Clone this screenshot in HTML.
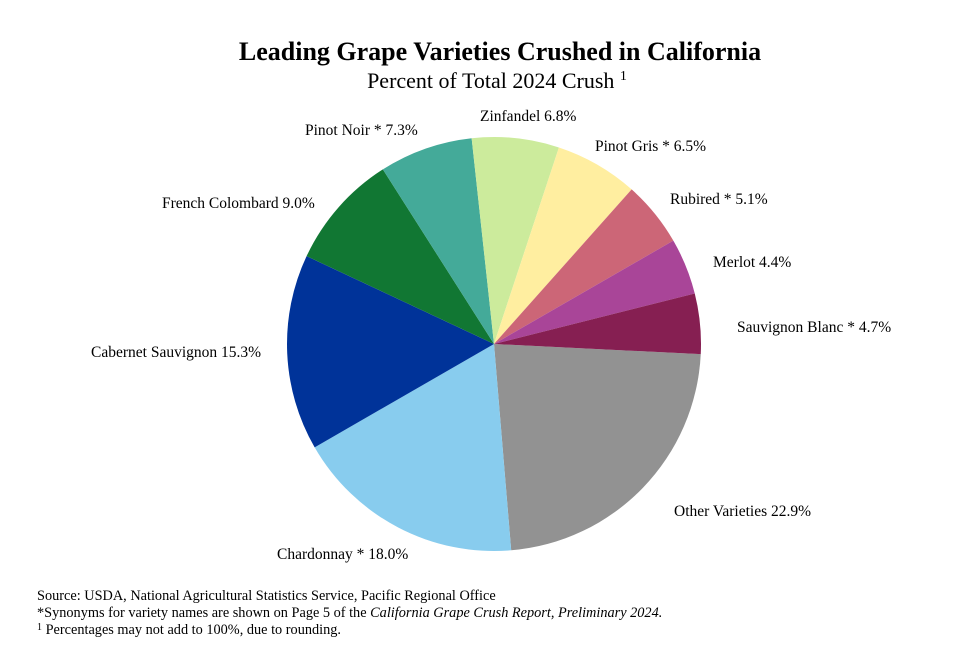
<!DOCTYPE html>
<html><head><meta charset="utf-8"><style>
html,body{margin:0;padding:0;background:#fff}
svg{display:block}
text{font-family:"Liberation Serif",serif;fill:#000}
</style></head><body>
<svg id="s" width="973" height="669" viewBox="0 0 973 669">
<text x="500" y="60" font-size="26" font-weight="bold" text-anchor="middle">Leading Grape Varieties Crushed in California</text>
<text x="497" y="88" font-size="22" text-anchor="middle">Percent of Total 2024 Crush <tspan font-size="14" dy="-8">1</tspan></text>
<g id="pie"></g>
<g font-size="15.5">
<text x="480" y="121">Zinfandel 6.8%</text>
<text x="305" y="135">Pinot Noir * 7.3%</text>
<text x="595" y="151">Pinot Gris * 6.5%</text>
<text x="162" y="208">French Colombard 9.0%</text>
<text x="670" y="204">Rubired * 5.1%</text>
<text x="713" y="267">Merlot 4.4%</text>
<text x="737" y="332">Sauvignon Blanc * 4.7%</text>
<text x="91" y="357">Cabernet Sauvignon 15.3%</text>
<text x="674" y="516">Other Varieties 22.9%</text>
<text x="277" y="559">Chardonnay * 18.0%</text>
</g>
<g font-size="14.3">
<text x="37" y="600">Source: USDA, National Agricultural Statistics Service, Pacific Regional Office</text>
<text x="37" y="617">*Synonyms for variety names are shown on Page 5 of the <tspan font-style="italic">California Grape Crush Report, Preliminary 2024.</tspan></text>
<text x="37" y="634"><tspan font-size="10" dy="-4">1</tspan><tspan dy="4"> Percentages may not add to 100%, due to rounding.</tspan></text>
</g>
</svg>
<script>
var cx=494,cy=344,r=207,a=2.8;
var d=[[22.9,"#929292"],[18.0,"#88ccee"],[15.3,"#003399"],[9.0,"#117733"],[7.3,"#44aa99"],[6.8,"#cceb9c"],[6.5,"#ffeea0"],[5.1,"#cc6677"],[4.4,"#a94598"],[4.7,"#861f52"]];
var tot=0;d.forEach(function(x){tot+=x[0]});
var g=document.getElementById("pie"),h="";
d.forEach(function(x){var s=x[0]/tot*360,b=a+s;
var p=function(t){t=t*Math.PI/180;return (cx+r*Math.cos(t)).toFixed(2)+","+(cy+r*Math.sin(t)).toFixed(2)};
h+='<path d="M'+cx+','+cy+' L'+p(a)+' A'+r+','+r+' 0 '+(s>180?1:0)+' 1 '+p(b)+' Z" fill="'+x[1]+'"/>';a=b;});
g.innerHTML=h;
</script>
</body></html>
